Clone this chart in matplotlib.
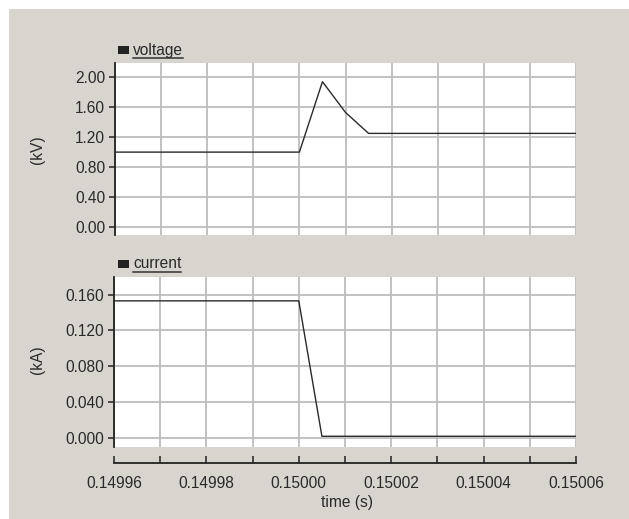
import matplotlib
matplotlib.use("Agg")
import matplotlib.pyplot as plt
from matplotlib.patches import Rectangle
from matplotlib.ticker import MultipleLocator, FixedLocator
import numpy as np

plt.rcParams['font.family'] = ['Liberation Sans', 'DejaVu Sans']

# Data
t_voltage = [0.14996, 0.15000, 0.150005, 0.15001, 0.150015, 0.15006]
voltage = [1.00, 1.00, 1.94, 1.53, 1.25, 1.25]
t_current = [0.14996, 0.15000, 0.150005, 0.15006]
current = [0.153, 0.153, 0.0015, 0.0015]

x_major = [0.14996, 0.14998, 0.15000, 0.15002, 0.15004, 0.15006]
x_labels = ["0.14996", "0.14998", "0.15000", "0.15002", "0.15004", "0.15006"]
v_ticks = [0.0, 0.4, 0.8, 1.2, 1.6, 2.0]
v_labels = ["0.00", "0.40", "0.80", "1.20", "1.60", "2.00"]
c_ticks = [0.0, 0.04, 0.08, 0.12, 0.16]
c_labels = ["0.000", "0.040", "0.080", "0.120", "0.160"]

W, H = 629, 519
fig = plt.figure(figsize=(W / 100, H / 100), dpi=100)
fig.patch.set_facecolor('white')
BG = '#d8d5cf'
fig.patches.append(Rectangle((9 / W, 0), 1, (H - 9) / H, transform=fig.transFigure,
                             facecolor=BG, edgecolor='none', zorder=-10))

GRID = '#bdbdbd'
LINE = '#2a2a2a'
TXT = '#2a2a2a'
FS = 11.2

def fx(px):
    return px / W

def fy(py):
    return 1 - py / H

def make_axes(x0, x1, y0, y1):
    ax = fig.add_axes([fx(x0), fy(y1), fx(x1) - fx(x0), fy(y0) - fy(y1)])
    ax.set_facecolor('white')
    for s in ['top', 'right', 'bottom']:
        ax.spines[s].set_visible(False)
    ax.spines['left'].set_color('#222222')
    ax.spines['left'].set_linewidth(1.3)
    ax.set_xlim(0.14996, 0.15006)
    ax.xaxis.set_major_locator(MultipleLocator(0.00001))
    ax.tick_params(axis='x', bottom=False, labelbottom=False)
    ax.tick_params(axis='y', direction='out', length=4, width=1.1, color='#222222',
                   labelsize=FS, labelcolor=TXT, pad=3)
    ax.grid(True, color=GRID, linewidth=1.3)
    ax.set_axisbelow(True)
    return ax

# Voltage axes
ax1 = make_axes(115, 576, 63, 235)
ax1.plot(t_voltage, voltage, color=LINE, linewidth=1.0)
ax1.set_ylim(-0.107, 2.19)
ax1.set_yticks(v_ticks)
ax1.set_yticklabels(v_labels)
fig.text(fx(38), fy(150), "(kV)", rotation=90, ha='center', va='center',
         fontsize=FS, color=TXT)

# Current axes
ax2 = make_axes(114, 576, 277, 447)
ax2.plot(t_current, current, color=LINE, linewidth=1.0)
ax2.set_ylim(-0.0105, 0.1797)
ax2.set_yticks(c_ticks)
ax2.set_yticklabels(c_labels)
fig.text(fx(38), fy(360), "(kA)", rotation=90, ha='center', va='center',
         fontsize=FS, color=TXT)

# Legend-like headers
headers = []
for ypx, label in [(50, "voltage"), (264, "current")]:
    fig.patches.append(Rectangle((fx(118), fy(ypx + 4)), 11 / W, 8 / H,
                                 transform=fig.transFigure, facecolor='#222222',
                                 edgecolor='none'))
    t = fig.text(fx(133), fy(ypx), label, ha='left', va='center', fontsize=FS,
                 color=TXT)
    headers.append((t, ypx))

# Shared x axis
ax3 = fig.add_axes([fx(114), fy(463), fx(576) - fx(114), 0.0001])
ax3.patch.set_visible(False)
for s in ['top', 'right', 'left']:
    ax3.spines[s].set_visible(False)
ax3.spines['bottom'].set_color('#222222')
ax3.spines['bottom'].set_linewidth(1.3)
ax3.set_xlim(0.14996, 0.15006)
ax3.set_yticks([])
ax3.xaxis.set_major_locator(FixedLocator(x_major))
ax3.set_xticklabels(x_labels)
ax3.xaxis.set_minor_locator(MultipleLocator(0.00001))
ax3.tick_params(axis='x', which='both', direction='in', length=5, width=1.1,
                color='#222222', labelsize=FS, labelcolor=TXT, pad=9)
fig.text(fx(347), fy(502), "time (s)", ha='center', va='center', fontsize=FS,
         color=TXT)

# underline headers using measured text extents
fig.canvas.draw()
renderer = fig.canvas.get_renderer()
for t, ypx in headers:
    bb = t.get_window_extent(renderer)
    x0f, x1f = bb.x0 / W, bb.x1 / W
    fig.add_artist(plt.Line2D([x0f, x1f], [fy(ypx + 8), fy(ypx + 8)],
                              transform=fig.transFigure, color='#333333',
                              linewidth=1.1))

fig.savefig("out.png", dpi=100, facecolor=fig.get_facecolor())
